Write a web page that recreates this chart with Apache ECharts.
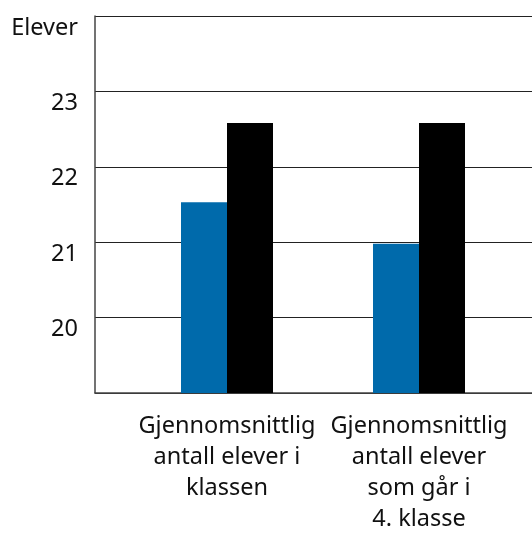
<!DOCTYPE html>
<html>
<head>
<meta charset="utf-8">
<script src="https://cdn.jsdelivr.net/npm/echarts@6/dist/echarts.min.js"></script>
<style>
  html, body { margin: 0; padding: 0; background: #fff; }
  #chart { width: 532px; height: 533px; }
</style>
</head>
<body>
<div id="chart"></div>
<script>
// data
var categories = [
    'Gjennomsnittlig\nantall elever i\nklassen',
    'Gjennomsnittlig\nantall elever\nsom går i\n4. klasse'
];
var categoryPos = [0, 1];
var blueValues = [21.53, 20.98];
var blackValues = [22.58, 22.58];
var yTicks = [19, 20, 21, 22, 23, 24];

var chart = echarts.init(document.getElementById('chart'));
var font = '"Noto Sans", sans-serif';

var option = {
    animation: false,
    grid: { left: 95, right: 0, top: 16, bottom: 140, outerBoundsMode: 'none', containLabel: false },
    xAxis: {
        type: 'value',
        min: -0.6875,
        max: 1.5885,
        splitLine: { show: false },
        axisTick: { show: false },
        axisLine: { show: true, lineStyle: { color: '#444', width: 1.5 } },
        axisLabel: {
            customValues: categoryPos,
            formatter: function (v) {
                var i = categoryPos.indexOf(v);
                return i >= 0 ? categories[i] : '';
            },
            margin: 18,
            fontFamily: font,
            fontSize: 23.5,
            lineHeight: 31,
            color: '#111'
        }
    },
    yAxis: {
        type: 'value',
        min: yTicks[0],
        max: yTicks[yTicks.length - 1],
        interval: 1,
        axisTick: { show: false },
        axisLine: { show: true, onZero: false, lineStyle: { color: '#444', width: 1.5 } },
        splitLine: { show: true, lineStyle: { color: '#222', width: 1.2 } },
        axisLabel: {
            formatter: function (v) {
                if (v === 24) return 'Elever';
                if (v === 19) return '';
                return String(v);
            },
            margin: 17,
            verticalAlign: 'top',
            fontFamily: font,
            fontSize: 23.5,
            color: '#111'
        }
    },
    series: [
        {
            name: 'blå',
            type: 'bar',
            barWidth: 46,
            barGap: '0%',
            itemStyle: { color: '#006aab' },
            data: categoryPos.map(function (x, i) { return [x, blueValues[i]]; })
        },
        {
            name: 'svart',
            type: 'bar',
            barWidth: 46,
            barGap: '0%',
            itemStyle: { color: '#000' },
            data: categoryPos.map(function (x, i) { return [x, blackValues[i]]; })
        }
    ]
};
chart.setOption(option);
</script>
</body>
</html>
